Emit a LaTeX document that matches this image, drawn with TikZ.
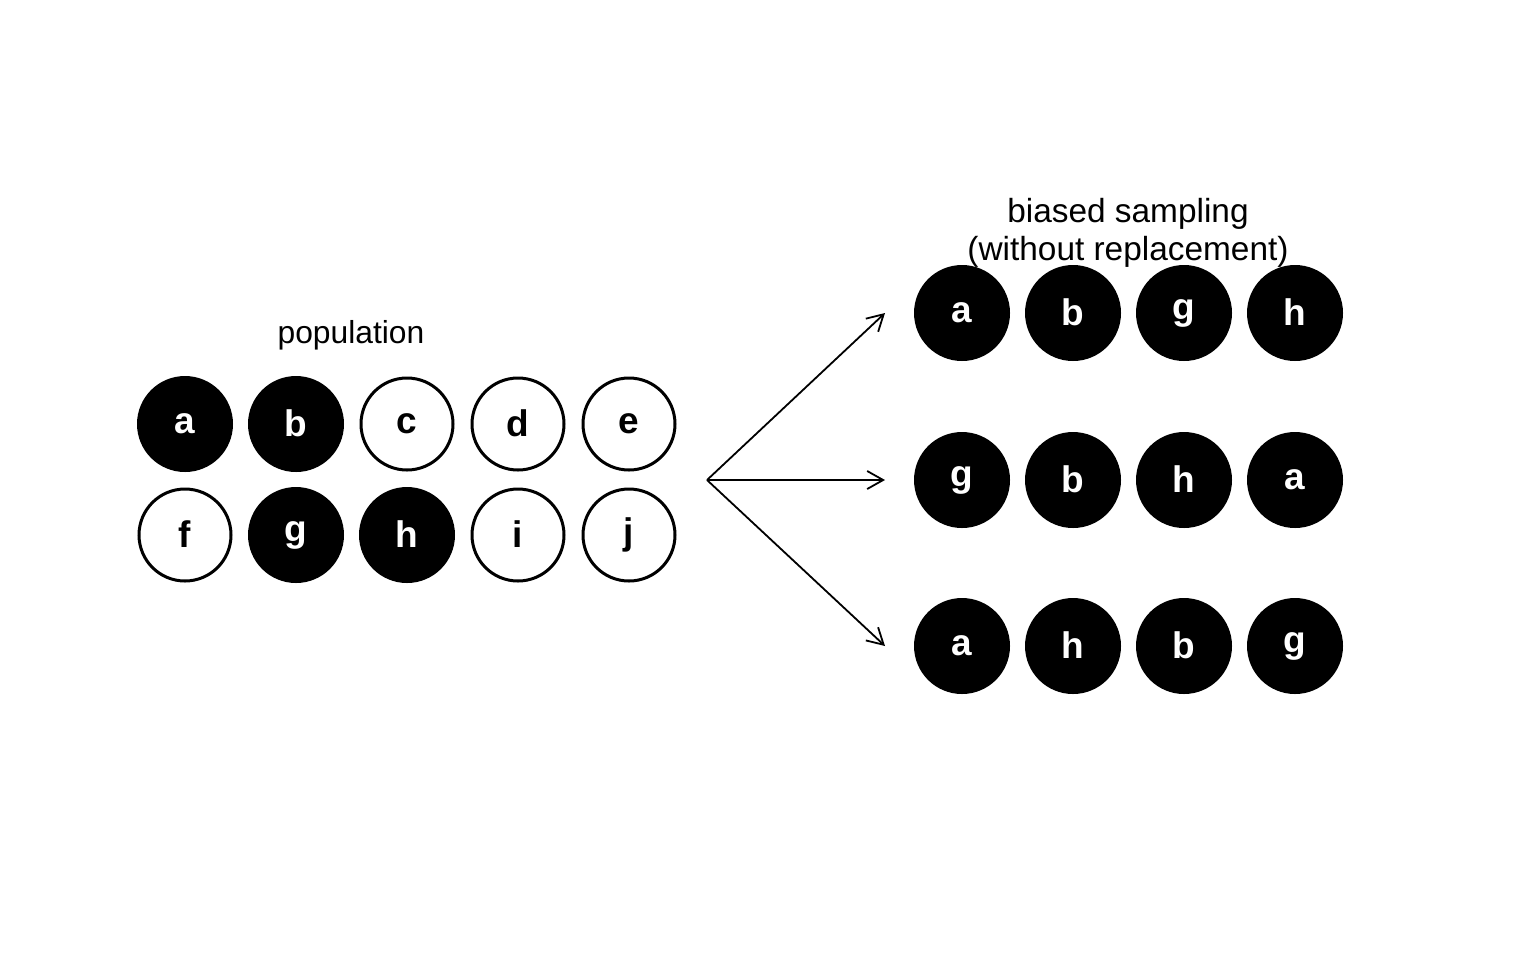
\documentclass[tikz,border=0pt]{standalone}
\usepackage{fontspec}
\setmainfont{Liberation Sans}
\usetikzlibrary{arrows.meta}
\newcommand\glyphat[2]{\raisebox{-#1pt}{#2}}
\newcommand\glyx[1]{\glyphat{4.75}{#1}}% x-height letters
\newcommand\glya[1]{\glyphat{6.45}{#1}}% ascender letters
\newcommand\glyg{\glyphat{3.0}{g}}
\newcommand\glyj{\glyphat{4.5}{j}}
\begin{document}
\begin{tikzpicture}[x=0.5pt,y=-0.5pt,
  dotfont/.style={font=\fontsize{18.5}{22}\selectfont\bfseries,text height=0pt,text depth=0pt},
  blk/.style={circle,fill=black,text=white,inner sep=0pt,minimum size=48pt,dotfont},
  wht/.style={circle,draw=black,line width=1.5pt,fill=white,text=black,inner sep=0pt,minimum size=46pt,dotfont},
  lbl/.style={font=\fontsize{16.7}{20}\selectfont,inner sep=0pt,anchor=base},
  arr/.style={line width=0.9pt,-{Straight Barb[length=8pt,width=9pt,line width=0.9pt]}}]
\useasboundingbox (0,0) rectangle (1536,960);
% population
\node[lbl,font=\fontsize{15.9}{19}\selectfont] (poplbl) at (351,343) {population};
\node[blk] (pa) at (185,424) {\glyx{a}};
\node[blk] (pb) at (296,424) {\glya{b}};
\node[wht] (pc) at (407,424) {\glyx{c}};
\node[wht] (pd) at (518,424) {\glya{d}};
\node[wht] (pe) at (629,424) {\glyx{e}};
\node[wht] (pf) at (185,535) {\glya{f}};
\node[blk] (pg) at (296,535) {\glyg};
\node[blk] (ph) at (407,535) {\glya{h}};
\node[wht] (pi) at (518,535) {\glya{i}};
\node[wht] (pj) at (629,535) {\glyj};
% title
\node[lbl] (t1) at (1128,222) {biased sampling};
\node[lbl] (t2) at (1128,260) {(without replacement)};
% samples
\node[blk] (s1a) at (962,313) {\glyx{a}};
\node[blk] (s1b) at (1073,313) {\glya{b}};
\node[blk] (s1c) at (1184,313) {\glyg};
\node[blk] (s1d) at (1295,313) {\glya{h}};
\node[blk] (s2a) at (962,480) {\glyg};
\node[blk] (s2b) at (1073,480) {\glya{b}};
\node[blk] (s2c) at (1184,480) {\glya{h}};
\node[blk] (s2d) at (1295,480) {\glyx{a}};
\node[blk] (s3a) at (962,646) {\glyx{a}};
\node[blk] (s3b) at (1073,646) {\glya{h}};
\node[blk] (s3c) at (1184,646) {\glya{b}};
\node[blk] (s3d) at (1295,646) {\glyg};
% arrows
\coordinate (src) at (707,480);
\coordinate (e1) at (885,313);
\coordinate (e2) at (885,480);
\coordinate (e3) at (885,646);
\draw[arr] (src) -- (e1);
\draw[arr] (src) -- (e2);
\draw[arr] (src) -- (e3);
\end{tikzpicture}
\end{document}
